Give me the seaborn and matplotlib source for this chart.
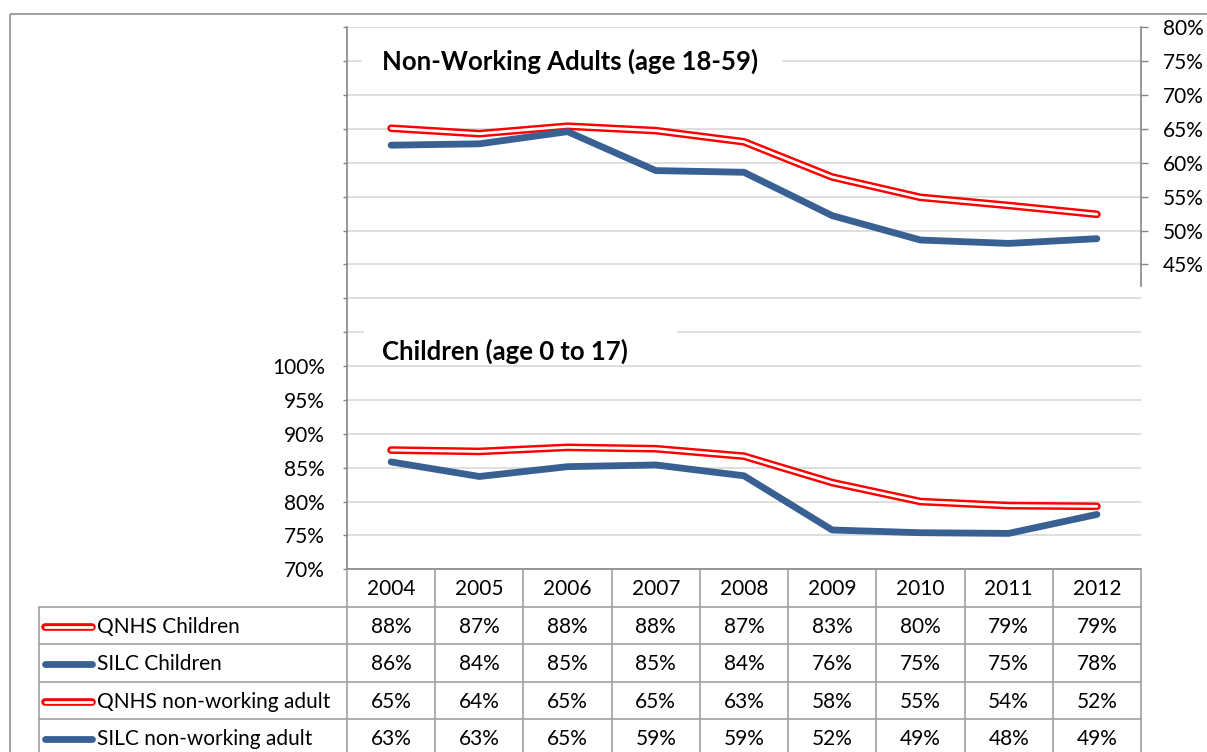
import matplotlib
matplotlib.use("Agg")
import matplotlib.pyplot as plt
import matplotlib.transforms as mtransforms
from matplotlib.patches import Rectangle
from matplotlib.lines import Line2D
from matplotlib.ticker import FuncFormatter, MultipleLocator
import seaborn as sns

# ---- data -------------------------------------------------------------
years = [2004, 2005, 2006, 2007, 2008, 2009, 2010, 2011, 2012]
qnhs_children = [87.6, 87.4, 88.0, 87.8, 86.7, 82.8, 80.0, 79.4, 79.3]
silc_children = [85.85, 83.7, 85.15, 85.4, 83.8, 75.8, 75.4, 75.3, 78.1]
qnhs_adult = [65.1, 64.3, 65.4, 64.75, 63.1, 57.9, 54.9, 53.7, 52.4]
silc_adult = [62.6, 62.8, 64.6, 58.85, 58.6, 52.2, 48.6, 48.1, 48.8]

series_names = ["QNHS Children", "SILC Children",
                "QNHS non-working adult", "SILC non-working adult"]
panel_titles = ["Non-Working Adults (age 18-59)", "Children (age 0 to 17)"]
left_ticks = [70, 75, 80, 85, 90, 95, 100]
right_ticks = [45, 50, 55, 60, 65, 70, 75, 80]

# ---- style ------------------------------------------------------------
RED = "#FF0000"
BLUE = "#386092"
GRID = "#D9D9D9"
AXIS = "#868686"
TABLE = "#A0A0A0"
FS = 15
TITLE_FS = 18.5

sns.set_theme(style="white")
plt.rcParams["font.family"] = ["Lato", "DejaVu Sans"]

W, H = 1207, 752
fig = plt.figure(figsize=(W / 100, H / 100), dpi=100)


def frame(x0, y0, x1, y1):
    return [x0 / W, 1 - y1 / H, (x1 - x0) / W, (y1 - y0) / H]


PLOT_L, PLOT_T, PLOT_R, PLOT_B = 347, 27.3, 1141, 569.3
ax = fig.add_axes(frame(PLOT_L, PLOT_T, PLOT_R, PLOT_B))
ax2 = ax.twinx()

ax.set_xlim(years[0] - 0.5, years[-1] + 0.5)
ax.set_ylim(70, 150)
ax2.set_ylim(0, 80)

RED_W, CORE_W, BLUE_W = 5.5, 2.0, 4.9


def outlined_line(axis, values):
    sns.lineplot(x=years, y=values, ax=axis, color=RED, linewidth=RED_W,
                 solid_capstyle="round", solid_joinstyle="round")
    sns.lineplot(x=years, y=values, ax=axis, color="white", linewidth=CORE_W,
                 solid_capstyle="round", solid_joinstyle="round")


def solid_line(axis, values):
    sns.lineplot(x=years, y=values, ax=axis, color=BLUE, linewidth=BLUE_W,
                 solid_capstyle="round", solid_joinstyle="round")


# children on the primary axis, adults on the secondary axis
outlined_line(ax, qnhs_children)
solid_line(ax, silc_children)
outlined_line(ax2, qnhs_adult)
solid_line(ax2, silc_adult)

for a in (ax, ax2):
    a.set_xlabel("")
    a.set_ylabel("")
    a.tick_params(axis="x", bottom=False, top=False,
                  labelbottom=False, labeltop=False)

# primary axis: gridlines every 5 %, labels only up to 100 %
ax.yaxis.set_major_locator(MultipleLocator(5))
ax.yaxis.set_major_formatter(
    FuncFormatter(lambda v, _: f"{v:.0f}%" if round(v) in left_ticks else ""))
ax.grid(axis="y", color=GRID, linewidth=1.2)
ax.grid(axis="x", visible=False)
ax.set_axisbelow(True)
ax.tick_params(axis="y", left=True, direction="out", length=3, width=1,
               color=AXIS, pad=13, labelsize=FS, labelcolor="black")
for side in ("top", "right"):
    ax.spines[side].set_visible(False)
for side in ("left", "bottom"):
    ax.spines[side].set_color(AXIS)
    ax.spines[side].set_linewidth(1.2)

# secondary axis
ax2.grid(False)
ax2.set_yticks(right_ticks)
ax2.yaxis.set_major_formatter(FuncFormatter(lambda v, _: f"{v:.0f}%"))
ax2.tick_params(axis="y", right=True, direction="out", length=5, width=1,
                color=AXIS, pad=11, labelsize=FS, labelcolor="black")
for side in ("top", "left", "bottom"):
    ax2.spines[side].set_visible(False)
ax2.spines["right"].set_color(AXIS)
ax2.spines["right"].set_linewidth(1.2)
ax2.spines["right"].set_bounds(41.8, 80)

# ---- overlay in pixel coordinates: frame, panel titles, data table ----
ov = fig.add_axes([0, 0, 1, 1], zorder=5)
ov.set_xlim(0, W)
ov.set_ylim(H, 0)
ov.axis("off")
ov.patch.set_alpha(0)

ov.add_patch(Rectangle((10, 14), 1400, 900, fill=False, edgecolor="#A0A0A0",
                       linewidth=1.4))

ov.add_patch(Rectangle((362, 38), 420, 50, facecolor="white", edgecolor="none"))
ov.text(382, 69.5, panel_titles[0], fontsize=TITLE_FS, fontweight="bold",
        va="baseline", ha="left", color="black")
ov.add_patch(Rectangle((364, 318), 313, 46, facecolor="white", edgecolor="none"))
ov.text(382, 360, panel_titles[1], fontsize=TITLE_FS, fontweight="bold",
        va="baseline", ha="left", color="black")

col_tf = mtransforms.blended_transform_factory(ax.transData, ov.transData)

TABLE_L = 39
row_h = 37.5
row_edges = [PLOT_B + i * row_h for i in range(6)]
row_mid = [(row_edges[i] + row_edges[i + 1]) / 2 for i in range(5)]

# vertical column dividers
for k in range(len(years) + 1):
    xe = years[0] - 0.5 + k
    ov.plot([xe, xe], [PLOT_B, H + 5], transform=col_tf, color=TABLE,
            linewidth=1.2, solid_capstyle="butt")
ov.plot([TABLE_L, TABLE_L], [row_edges[1], H + 5], color=TABLE, linewidth=1.2)
# horizontal row dividers
for ye in row_edges[1:5]:
    ov.plot([TABLE_L, PLOT_R], [ye, ye], color=TABLE, linewidth=1.2)

# header row with the years
for yr in years:
    ov.text(yr, row_mid[0] + 1, str(yr), transform=col_tf, ha="center",
            va="center", fontsize=FS, color="black")

table_rows = [qnhs_children, silc_children, qnhs_adult, silc_adult]
row_styles = ["outlined", "solid", "outlined", "solid"]
for r, (name, vals, style) in enumerate(zip(series_names, table_rows, row_styles)):
    yc = row_mid[r + 1] + 1
    if style == "outlined":
        ov.add_line(Line2D([45, 92], [yc, yc], color=RED, linewidth=RED_W,
                           solid_capstyle="round"))
        ov.add_line(Line2D([45, 92], [yc, yc], color="white", linewidth=CORE_W,
                           solid_capstyle="round"))
    else:
        ov.add_line(Line2D([45, 92], [yc, yc], color=BLUE, linewidth=BLUE_W,
                           solid_capstyle="round"))
    ov.text(97, yc, name, ha="left", va="center", fontsize=FS, color="black")
    for yr, v in zip(years, vals):
        ov.text(yr, yc, f"{round(v)}%", transform=col_tf, ha="center",
                va="center", fontsize=FS, color="black")

fig.savefig("out.png", dpi=100)
